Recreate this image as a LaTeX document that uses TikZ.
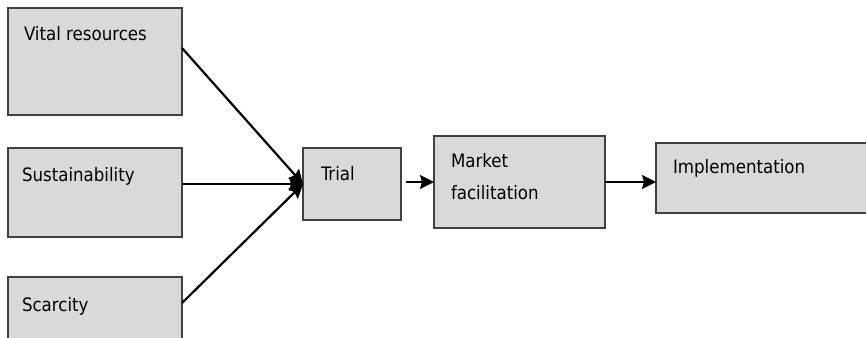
\documentclass[tikz,border=0pt]{standalone}
\usepackage{fontspec}
\setmainfont{DejaVu Sans Condensed}
\usetikzlibrary{
  calc,
  positioning,
  arrows.meta}

\begin{document}
\begin{tikzpicture}[
  x=1pt, y=-1pt,
  >={Stealth[length=14pt,width=14pt,inset=2pt]},
  line width=2.2pt,
  every node/.style={inner sep=0pt,outer sep=0pt},
  box/.style={draw=black!75,fill=black!15,line width=1.6pt,anchor=north west},
  lbl/.style={font=\fontsize{18.5}{32}\selectfont,align=left}
]%
  \clip (0,0) rectangle (866,337);
  \fill[white] (0,0) rectangle (866,337);

  \node[box,minimum width=174pt,minimum height=107pt] (vital) at (8,8) {};
  \node[box,minimum width=174pt,minimum height=89pt]  (sust)  at (8,148) {};
  \node[box,minimum width=174pt,minimum height=90pt]  (scar)  at (8,277) {};
  \node[box,minimum width=98pt,minimum height=72pt]   (trial) at (303,148) {};
  \node[box,minimum width=171pt,minimum height=92pt]  (market) at (434,136) {};
  \node[box,minimum width=230pt,minimum height=70pt]  (impl)  at (656,143) {};

  \node[lbl,below right=18pt and 16pt of vital.north west]  (vital-t)  {Vital resources};
  \node[lbl,below right=19pt and 14pt of sust.north west]   (sust-t)   {Sustainability};
  \node[lbl,below right=20pt and 14pt of scar.north west]   (scar-t)   {Scarcity};
  \node[lbl,below right=18pt and 18pt of trial.north west]  (trial-t)  {Trial};
  \node[lbl,below right=17pt and 17pt of market.north west] (market-t) {Market\\facilitation};
  \node[lbl,below right=16pt and 17pt of impl.north west]   (impl-t)   {Implementation};

  \draw[->] ([yshift=13.5pt]vital.east)    -- (trial.west);
  \draw[->] (sust.east |- trial.west)      -- (trial.west);
  \draw[->] ([yshift=-26pt]scar.north east) -- (trial.west);

  \draw[->] ([xshift=5pt]trial.east |- market.west) -- (market.west);
  \draw[->] (market.east) -- (market.east -| impl.west);

\end{tikzpicture}
\end{document}
